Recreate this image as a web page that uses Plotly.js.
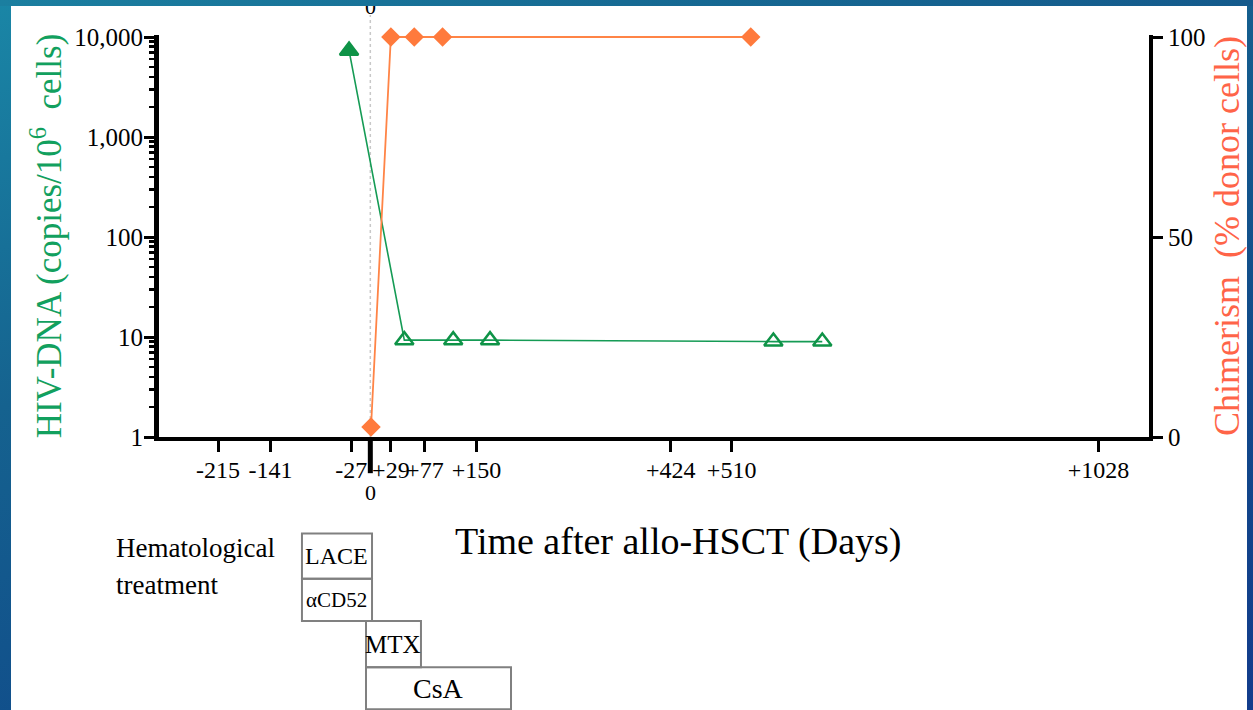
<!DOCTYPE html>
<html>
<head>
<meta charset="utf-8">
<script src="https://cdn.plot.ly/plotly-3.0.1.min.js"></script>
<style>
  html, body { margin: 0; padding: 0; width: 1253px; height: 710px; overflow: hidden; }
  body { background: linear-gradient(160deg, #1a86a6 0%, #15628f 35%, #104a8a 70%, #123c8c 100%); position: relative; }
  #sheet { position: absolute; left: 11px; top: 6px; width: 1236px; height: 704px; background: #ffffff; }
  #topstrip { position: absolute; left: 0; top: 0; width: 1253px; height: 6px; z-index: 5;
    background: linear-gradient(90deg, #1b7fa0 0%, #166a93 50%, #145a8c 100%); }
  #chart { position: absolute; left: 0; top: 0; width: 1253px; height: 710px; z-index: 2; }
</style>
</head>
<body>
<div id="sheet"></div>
<div id="topstrip"></div>
<div id="chart"></div>
<script>
// ---- data ----
const hivDays = [-30, 48, 117, 169, 569, 638];
const hivValues = [7300, 9.3, 9.3, 9.3, 9.0, 9.0];
const hivSymbols = ['triangle-up', 'triangle-up-open', 'triangle-up-open', 'triangle-up-open', 'triangle-up-open', 'triangle-up-open'];

const chimDays = [1, 29, 62, 102, 537];
const chimValues = [2.5, 100, 100, 100, 100];

const xTickVals = [-215, -141, -27, 29, 77, 150, 424, 510, 1028];
const xTickText = ['-215', '-141', '-27', '+29', '+77', '+150', '+424', '+510', '+1028'];
const yTickVals = [1, 10, 100, 1000, 10000];
const yTickText = ['1', '10', '100', '1,000', '10,000'];
const y2TickVals = [0, 50, 100];
const y2TickText = ['0', '50', '100'];

const treatments = ['LACE', 'αCD52', 'MTX', 'CsA'];
// ---- styling / geometry ----
const SERIF = 'Liberation Serif, Times New Roman, serif';
const GREEN = '#159b55';
const ORANGE = '#ff7a3c';
const boxSpec = [
  {x0: -96.5, x1: 2.4, y0: -0.24, y1: -0.3525, size: 24},
  {x0: -96.5, x1: 2.4, y0: -0.3525, y1: -0.4575, size: 21},
  {x0: -6.1, x1: 71.5, y0: -0.4575, y1: -0.5725, size: 25},
  {x0: -6.1, x1: 198.6, y0: -0.5725, y1: -0.6775, size: 28}
];

const traces = [
  {
    x: hivDays, y: hivValues, type: 'scatter', mode: 'lines+markers',
    line: {color: GREEN, width: 1.6},
    marker: {symbol: hivSymbols, size: 16, color: '#0e9347', line: {color: '#0e9347', width: 2.5}},
    cliponaxis: false, yaxis: 'y', showlegend: false
  },
  {
    x: chimDays, y: chimValues, type: 'scatter', mode: 'lines+markers',
    line: {color: '#ff8446', width: 1.8},
    marker: {symbol: 'diamond', size: 15, color: ORANGE},
    cliponaxis: false, yaxis: 'y2', showlegend: false
  }
];

const plotL = 159, plotR = 1149, plotT = 35, plotB = 437;
const pxToPaperY = py => (plotB - py) / (400);
const pxToPaperX = px => (px - plotL) / (plotR - plotL);

const shapes = [
  {type: 'line', xref: 'x', yref: 'paper', x0: 0, x1: 0, y0: 0, y1: pxToPaperY(17),
   line: {color: '#c8c8c8', width: 1.5, dash: 'dot'}, layer: 'below'},
  {type: 'line', xref: 'x', yref: 'paper', x0: 0, x1: 0, y0: 0, y1: pxToPaperY(473),
   line: {color: '#000', width: 5}}
];
const annotations = [
  {text: '0', x: 0, xref: 'x', y: pxToPaperY(492), yref: 'paper', showarrow: false,
   font: {family: SERIF, size: 22, color: '#000'}, yanchor: 'middle'},
  {text: '0', x: 0, xref: 'x', y: pxToPaperY(9), yref: 'paper', showarrow: false,
   font: {family: SERIF, size: 22, color: '#000'}, yanchor: 'middle'},
  {text: 'Time after allo-HSCT (Days)', x: pxToPaperX(678), xref: 'paper', y: pxToPaperY(541), yref: 'paper',
   showarrow: false, font: {family: SERIF, size: 38, color: '#000'}, yanchor: 'middle'},
  {text: 'Hematological', x: pxToPaperX(114), xref: 'paper', y: pxToPaperY(547), yref: 'paper', showarrow: false,
   font: {family: SERIF, size: 27, color: '#000'}, xanchor: 'left', yanchor: 'middle'},
  {text: 'treatment', x: pxToPaperX(114), xref: 'paper', y: pxToPaperY(584), yref: 'paper', showarrow: false,
   font: {family: SERIF, size: 27, color: '#000'}, xanchor: 'left', yanchor: 'middle'}
];

treatments.forEach((name, i) => {
  const b = boxSpec[i];
  shapes.push({type: 'rect', xref: 'x', yref: 'paper', x0: b.x0, x1: b.x1, y0: b.y0, y1: b.y1,
    line: {color: '#808080', width: 2}, fillcolor: 'rgba(0,0,0,0)'});
  annotations.push({text: name, x: (b.x0 + b.x1) / 2, xref: 'x', y: (b.y0 + b.y1) / 2, yref: 'paper',
    showarrow: false, font: {family: SERIF, size: b.size, color: '#000'}, yanchor: 'middle'});
});

// plot area is 402px tall (35..437); 400px correspond to 4 decades / 100 %
const layout = {
  width: 1253, height: 710,
  margin: {l: plotL, r: 1253 - plotR, t: plotT, b: 710 - plotB, pad: 0},
  paper_bgcolor: 'rgba(0,0,0,0)', plot_bgcolor: 'rgba(0,0,0,0)',
  font: {family: SERIF, color: '#000'},
  xaxis: {
    range: [-298.3, 1099.2], showgrid: false, zeroline: false,
    showline: true, linecolor: '#000', linewidth: 4,
    tickmode: 'array', tickvals: xTickVals, ticktext: xTickText, tickangle: 0,
    ticks: 'outside', ticklen: 11, tickwidth: 3, tickcolor: '#000', ticklabelstandoff: -3,
    tickfont: {family: SERIF, size: 24, color: '#000'}, automargin: false
  },
  yaxis: {
    type: 'log', range: [0, 4.02], showgrid: false, zeroline: false,
    showline: true, linecolor: '#000', linewidth: 5,
    tickmode: 'array', tickvals: yTickVals, ticktext: yTickText,
    ticks: 'outside', ticklen: 10, tickwidth: 3, tickcolor: '#000', ticklabelstandoff: -4,
    minor: {dtick: 'D1', ticks: 'outside', ticklen: 5, tickwidth: 2.5, tickcolor: '#000', showgrid: false},
    tickfont: {family: SERIF, size: 25, color: '#000'}, automargin: false,
    title: {text: 'HIV-DNA (copies/10<sup>6</sup>\u00a0 cells)', font: {family: SERIF, size: 35, color: '#12a05e'}, standoff: 4}
  },
  yaxis2: {
    overlaying: 'y', side: 'right', range: [0, 100.5], showgrid: false, zeroline: false,
    showline: true, linecolor: '#000', linewidth: 4,
    tickmode: 'array', tickvals: y2TickVals, ticktext: y2TickText,
    ticks: 'outside', ticklen: 10, tickwidth: 3, tickcolor: '#000',
    tickfont: {family: SERIF, size: 25, color: '#000'}, automargin: false,
    title: {text: 'Chimerism\u00a0 (% donor cells)', font: {family: SERIF, size: 36, color: '#ff6448'}, standoff: 10}
  },
  shapes: shapes,
  annotations: annotations
};

Plotly.newPlot('chart', traces, layout, {displayModeBar: false, staticPlot: true});
</script>
</body>
</html>
